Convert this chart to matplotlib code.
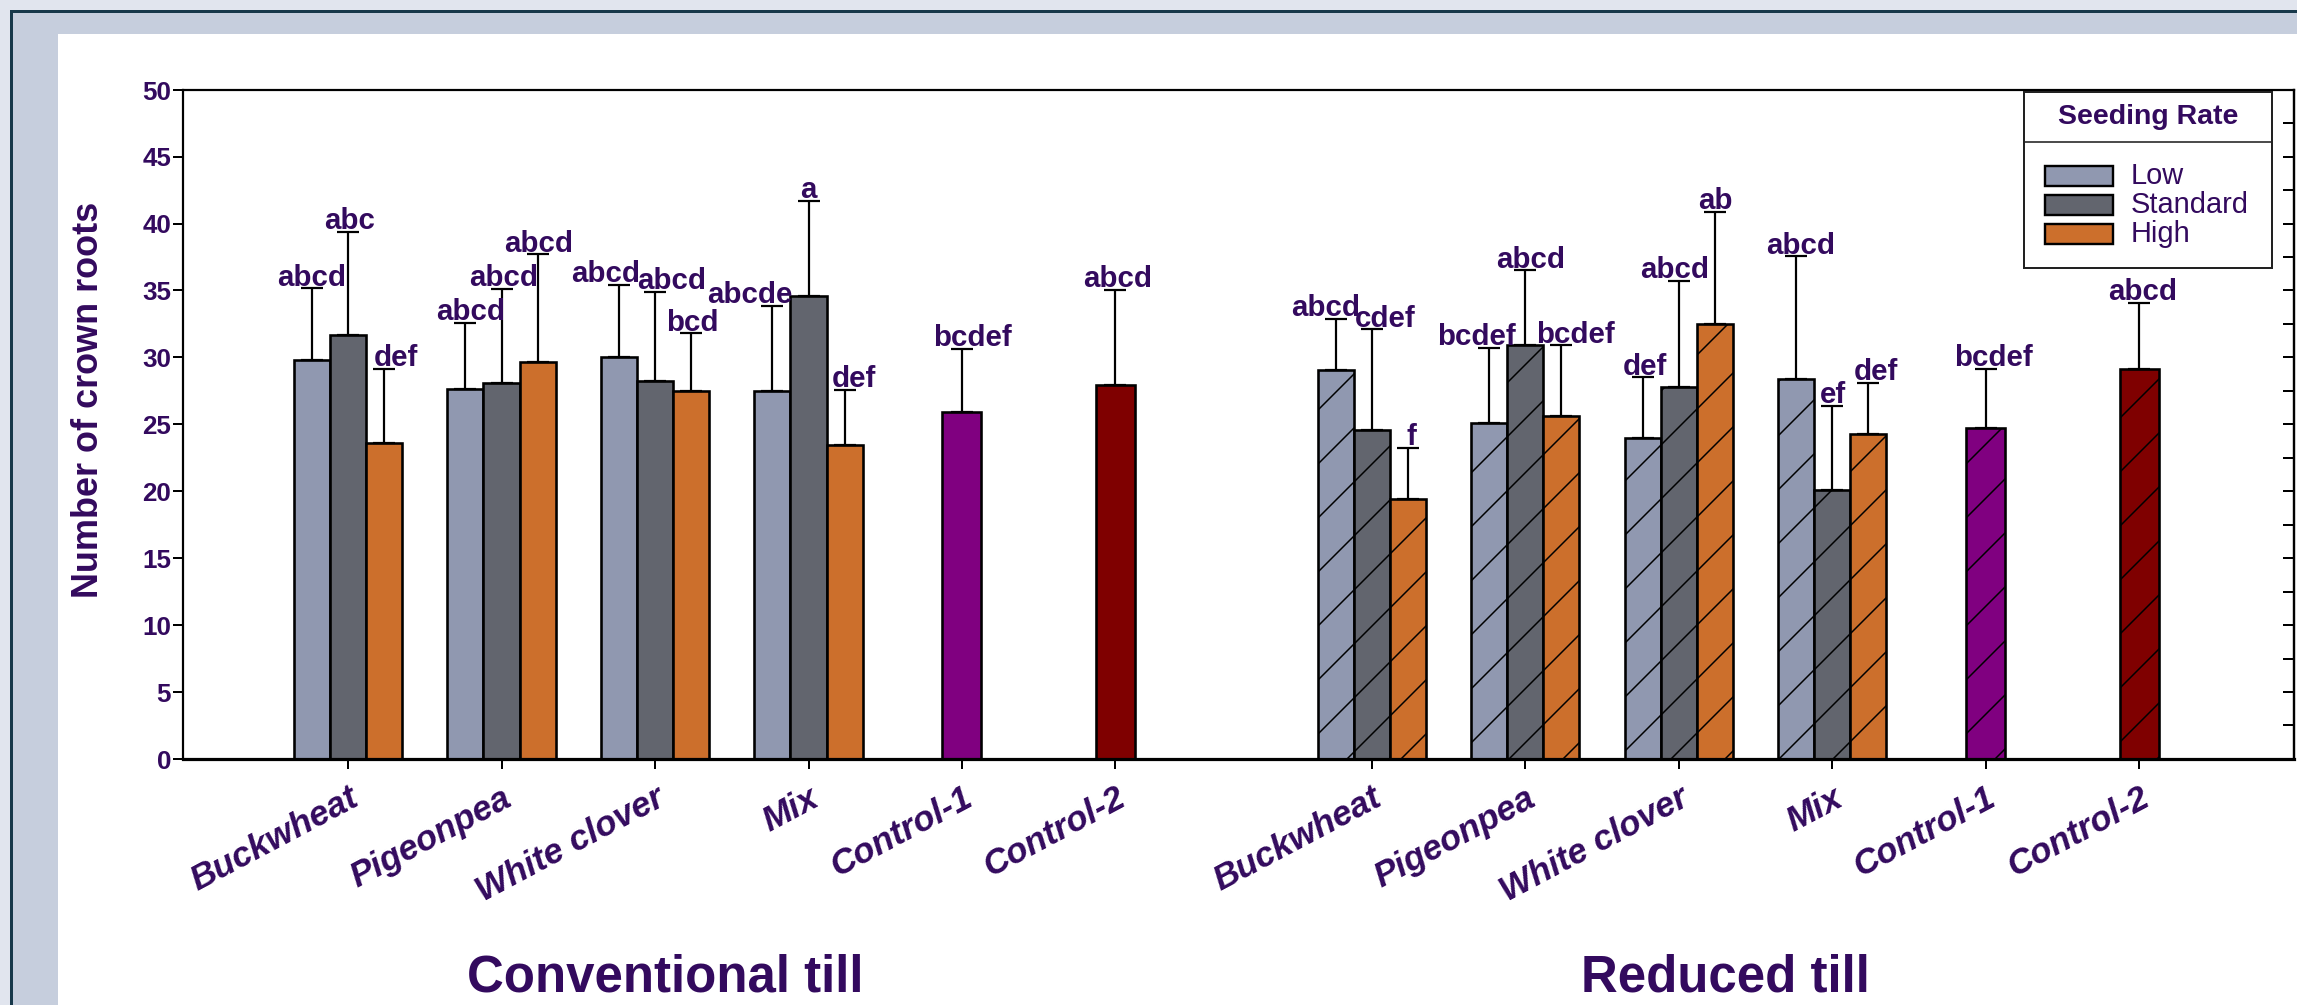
import numpy as np
import matplotlib
matplotlib.use("Agg")
import matplotlib.pyplot as plt
from matplotlib.patches import Rectangle
from matplotlib.lines import Line2D

# ---------------- data ----------------
categories = ["Buckwheat", "Pigeonpea", "White clover", "Mix", "Control-1", "Control-2"]
rates = ["Low", "Standard", "High"]

ct_low = [29.8, 27.65, 30.05, 27.5]
ct_std = [31.7, 28.1, 28.25, 34.6]
ct_high = [23.6, 29.65, 27.5, 23.45]
ct_ctrl = [25.95, 27.95]
ct_low_err = [5.35, 4.95, 5.35, 6.35]
ct_std_err = [7.7, 7.0, 6.65, 7.1]
ct_high_err = [5.55, 8.05, 4.3, 4.1]
ct_ctrl_err = [4.7, 7.1]

rt_low = [29.05, 25.1, 24.0, 28.35]
rt_std = [24.6, 30.9, 27.8, 20.1]
rt_high = [19.4, 25.6, 32.5, 24.3]
rt_ctrl = [24.75, 29.15]
rt_low_err = [3.85, 5.6, 4.5, 9.2]
rt_std_err = [7.5, 5.6, 7.9, 6.3]
rt_high_err = [3.85, 5.3, 8.4, 3.8]
rt_ctrl_err = [4.4, 4.95]

ct_low_lab = ["abcd", "abcd", "abcd", "abcde"]
ct_std_lab = ["abc", "abcd", "abcd", "a"]
ct_high_lab = ["def", "abcd", "bcd", "def"]
ct_ctrl_lab = ["bcdef", "abcd"]
rt_low_lab = ["abcd", "bcdef", "def", "abcd"]
rt_std_lab = ["cdef", "abcd", "abcd", "ef"]
rt_high_lab = ["f", "bcdef", "ab", "def"]
rt_ctrl_lab = ["bcdef", "abcd"]

yticks = [0, 5, 10, 15, 20, 25, 30, 35, 40, 45, 50]
group_titles = ["Conventional till", "Reduced till"]

# label horizontal nudges (pixels) - layout only
ct_low_dx = [0, 5, -13, -23]
ct_std_dx = [2, 2, 17, 0]
ct_high_dx = [12, 1, 1, 9]
ct_ctrl_dx = [10, 2]
rt_low_dx = [-10, -13, 2, 4]
rt_std_dx = [13, 5, -4, 1]
rt_high_dx = [4, 14, 1, 8]
rt_ctrl_dx = [8, 3]

# ---------------- style ----------------
W, H = 2297, 1005
DPI = 162
PX = 72.0 / DPI  # points per pixel
purple = "#330a5e"
c_low, c_std, c_high = "#9098b0", "#62656e", "#cc6f2c"
ctrl_colors = ["#800080", "#7f0000"]
FONT = ["Liberation Sans", "DejaVu Sans"]
plt.rcParams["font.family"] = FONT
plt.rcParams["hatch.linewidth"] = 1.5 * PX
plt.rcParams["hatch.color"] = "black"

fig = plt.figure(figsize=((W + 0.3) / DPI, (H + 0.3) / DPI), dpi=DPI)
fig.patch.set_facecolor("#e1e5ee")

# poster frame
def frect(x0, ytop, color, z):
    fig.add_artist(Rectangle((x0 / W, -0.1), 2.0, (1 - ytop / H) + 0.1,
                             transform=fig.transFigure, facecolor=color,
                             edgecolor="none", zorder=z))
frect(10, 10, "#17384a", -30)
frect(13, 13, "#c6cedd", -29)
frect(58, 34, "white", -28)

ax = fig.add_axes([183 / W, 1 - 759 / H, (2294 - 183) / W, (759 - 90) / H])
ax.set_facecolor("none")
ax.set_xlim(-1.075, 12.68)
ax.set_ylim(0, 50)

rt_off = 6.67
bw = 0.235
cw = 0.254
edge_lw = 2.6 * PX
err_kw = dict(fmt="none", ecolor="black", elinewidth=2.2 * PX,
              capsize=11.5 * PX, capthick=2.2 * PX, zorder=3)

def draw_set(xc, vals, errs, labs, dxs, colors, width, hatch):
    xc = np.asarray(xc, dtype=float)
    vals = np.asarray(vals, dtype=float)
    errs = np.asarray(errs, dtype=float)
    ax.bar(xc, vals, width=width, color=colors, edgecolor="black",
           linewidth=edge_lw, hatch=hatch, zorder=2)
    ax.errorbar(xc, vals, yerr=[np.zeros_like(errs), errs], **err_kw)
    for x, v, e, s, dx in zip(xc, vals, errs, labs, dxs):
        ax.annotate(s, xy=(x, v + e), xytext=(dx * PX, 3 * PX),
                    textcoords="offset points", ha="center", va="baseline",
                    fontsize=29.5 * PX, fontweight="bold", color=purple, zorder=4)

g = np.arange(4)
for off, hatch, sets in [
    (0.0, None, [(ct_low, ct_low_err, ct_low_lab, ct_low_dx),
                 (ct_std, ct_std_err, ct_std_lab, ct_std_dx),
                 (ct_high, ct_high_err, ct_high_lab, ct_high_dx),
                 (ct_ctrl, ct_ctrl_err, ct_ctrl_lab, ct_ctrl_dx)]),
    (rt_off, "/", [(rt_low, rt_low_err, rt_low_lab, rt_low_dx),
                   (rt_std, rt_std_err, rt_std_lab, rt_std_dx),
                   (rt_high, rt_high_err, rt_high_lab, rt_high_dx),
                   (rt_ctrl, rt_ctrl_err, rt_ctrl_lab, rt_ctrl_dx)]),
]:
    for i, col in enumerate([c_low, c_std, c_high]):
        v, e, l, d = sets[i]
        draw_set(g + off + (i - 1) * bw, v, e, l, d, col, bw, hatch)
    v, e, l, d = sets[3]
    draw_set(np.array([4.0, 5.0]) + off, v, e, l, d, ctrl_colors, cw, hatch)

# axes styling
for s in ["left", "top"]:
    ax.spines[s].set_linewidth(2.2 * PX)
ax.spines["bottom"].set_linewidth(3.2 * PX)
ax.spines["right"].set_visible(False)

xt = list(np.arange(6)) + list(np.arange(6) + rt_off)
ax.set_xticks(xt)
ax.set_xticklabels(categories + categories, rotation=28, ha="right",
                   rotation_mode="anchor", fontstyle="italic",
                   fontweight="bold", fontsize=35 * PX, color=purple)
ax.tick_params(axis="x", direction="out", length=10 * PX, width=2 * PX,
               pad=12 * PX)
ax.set_yticks(yticks)
ax.set_yticklabels([str(t) for t in yticks], fontweight="bold",
                   fontsize=26 * PX, color=purple)
ax.tick_params(axis="y", direction="out", length=10 * PX, width=2 * PX,
               pad=2 * PX)

ax2 = ax.twinx()
ax2.set_ylim(0, 50)
ax2.set_yticks(np.arange(2.5, 50, 2.5))
ax2.tick_params(axis="y", direction="in", length=11 * PX, width=2 * PX,
                labelright=False)
for s in ["left", "top", "bottom"]:
    ax2.spines[s].set_visible(False)
ax2.spines["right"].set_linewidth(2.4 * PX)

# legend (drawn manually in axes fraction)
lx0, lx1 = 0.8721, 0.9896
ly0, ly1, ldiv = 0.734, 0.997, 0.922
ax.add_patch(Rectangle((lx0, ly0), lx1 - lx0, ly1 - ly0, transform=ax.transAxes,
                       facecolor="white", edgecolor="#222222",
                       linewidth=2 * PX, zorder=6, clip_on=False))
ax.add_line(Line2D([lx0, lx1], [ldiv, ldiv], transform=ax.transAxes,
                   color="#222222", linewidth=1.6 * PX, zorder=7))
ax.text((lx0 + lx1) / 2, 0.960, "Seeding Rate", transform=ax.transAxes,
        ha="center", va="center", fontsize=28.5 * PX, fontweight="bold",
        color=purple, zorder=7)
for i, (lab, col) in enumerate(zip(rates, [c_low, c_std, c_high])):
    yc = 0.8714 - i * 0.0433
    ax.add_patch(Rectangle((0.882, yc - 0.015), 0.0322, 0.030,
                           transform=ax.transAxes, facecolor=col,
                           edgecolor="black", linewidth=2.4 * PX, zorder=7))
    ax.text(0.9223, yc, lab, transform=ax.transAxes, ha="left", va="center",
            fontsize=29 * PX, color=purple, zorder=7)

# y label and group titles
fig.text(88 / W, 1 - 400 / H, "Number of crown roots", rotation=90,
         ha="center", va="center", fontsize=36 * PX, fontweight="bold",
         color=purple)
fig.text(665 / W, 3 / H, group_titles[0], ha="center", va="bottom",
         fontsize=51 * PX, fontweight="bold", color=purple)
fig.text(1725 / W, 3 / H, group_titles[1], ha="center", va="bottom",
         fontsize=51 * PX, fontweight="bold", color=purple)

fig.savefig("out.png", dpi=DPI, facecolor=fig.get_facecolor())
